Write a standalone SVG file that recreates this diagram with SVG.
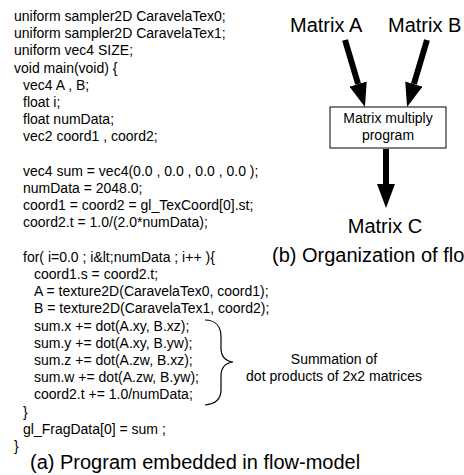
<svg xmlns="http://www.w3.org/2000/svg" width="464" height="475" viewBox="0 0 464 475">
<style>
.code{font-family:"Liberation Sans",Arial,sans-serif;font-size:14px;fill:#000}
.big{font-family:"Liberation Sans",Arial,sans-serif;font-size:20px;fill:#000}
.conn{stroke:#000;stroke-width:6;fill:none}
</style>
<defs>
<marker id="ah" markerWidth="4" markerHeight="3" refX="0" refY="1.5" orient="auto" markerUnits="strokeWidth">
<path d="M0,0 L4,1.5 L0,3 Z" fill="#000"/>
</marker>
</defs>
<rect width="464" height="475" fill="#fff"/>
<g id="code">
<text class="code" x="14" y="21">uniform sampler2D CaravelaTex0;</text>
<text class="code" x="14" y="38.2">uniform sampler2D CaravelaTex1;</text>
<text class="code" x="14" y="55.4">uniform vec4 SIZE;</text>
<text class="code" x="14" y="72.6">void main(void) {</text>
<text class="code" x="23" y="89.8">vec4 A , B;</text>
<text class="code" x="23" y="107">float i;</text>
<text class="code" x="23" y="124.2">float numData;</text>
<text class="code" x="23" y="141.4">vec2 coord1 , coord2;</text>
<text class="code" x="23" y="175.8">vec4 sum = vec4(0.0 , 0.0 , 0.0 , 0.0 );</text>
<text class="code" x="23" y="193">numData = 2048.0;</text>
<text class="code" x="23" y="210.2">coord1 = coord2 = gl_TexCoord[0].st;</text>
<text class="code" x="23" y="227.4">coord2.t = 1.0/(2.0*numData);</text>
<text class="code" x="23" y="261.8">for( i=0.0 ; i&amp;lt;numData ; i++ ){</text>
<text class="code" x="34" y="279">coord1.s = coord2.t;</text>
<text class="code" x="34" y="296.2">A = texture2D(CaravelaTex0, coord1);</text>
<text class="code" x="34" y="313.4">B = texture2D(CaravelaTex1, coord2);</text>
<text class="code" x="34" y="330.6">sum.x += dot(A.xy, B.xz);</text>
<text class="code" x="34" y="347.8">sum.y += dot(A.xy, B.yw);</text>
<text class="code" x="34" y="365">sum.z += dot(A.zw, B.xz);</text>
<text class="code" x="34" y="382.2">sum.w += dot(A.zw, B.yw);</text>
<text class="code" x="34" y="399.4">coord2.t += 1.0/numData;</text>
<text class="code" x="23" y="416.6">}</text>
<text class="code" x="23" y="433.8">gl_FragData[0] = sum ;</text>
<text class="code" x="14" y="451">}</text>
<text class="big" x="30" y="469">(a) Program embedded in flow-model</text>
</g>
<g id="brace">
<path d="M205,320 C215,320 221,326 221,337 L221,348 C221,356 225,361 233,362 C225,363 221,368 221,376 L221,390 C221,399 215,404 205,405" fill="none" stroke="#000" stroke-width="1.2"/>
<text class="code" x="334" y="364" text-anchor="middle">Summation of</text>
<text class="code" x="334" y="381" text-anchor="middle">dot products of 2x2 matrices</text>
</g>
<g id="matrixA"><text class="big" x="290" y="32">Matrix A</text></g>
<g id="matrixB"><text class="big" x="388" y="32">Matrix B</text></g>
<g id="program">
<rect x="330" y="107" width="116" height="41" fill="#fff" stroke="#000" stroke-width="1"/>
<text class="code" x="388" y="123" text-anchor="middle">Matrix multiply</text>
<text class="code" x="388" y="140" text-anchor="middle">program</text>
</g>
<g id="matrixC"><text class="big" x="385" y="233" text-anchor="middle">Matrix C</text></g>
<text class="big" x="272" y="262">(b) Organization of flo</text>
<g id="connectors">
<line class="conn" x1="345" y1="40" x2="358.1" y2="84" marker-end="url(#ah)"/>
<line class="conn" x1="427" y1="40" x2="413.9" y2="84" marker-end="url(#ah)"/>
<line class="conn" x1="386" y1="149" x2="386" y2="184" marker-end="url(#ah)"/>
</g>
</svg>
